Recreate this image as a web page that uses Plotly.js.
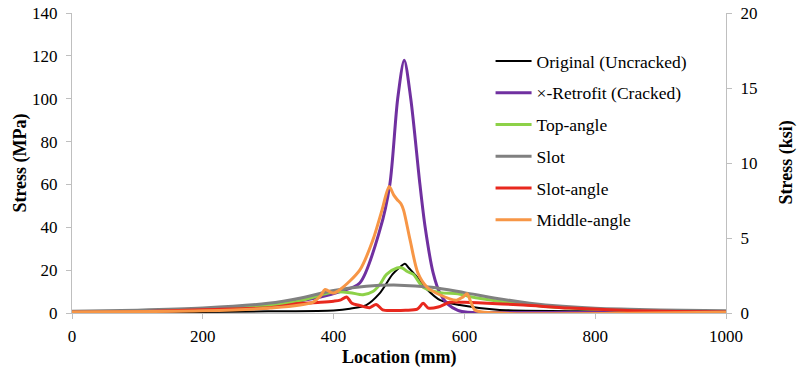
<!DOCTYPE html>
<html>
<head>
<meta charset="utf-8">
<script src="https://cdn.plot.ly/plotly-3.0.1.min.js"></script>
<style>html,body{margin:0;padding:0;background:#fff;}#chart{width:797px;height:372px;}</style>
</head>
<body>
<div id="chart"></div>
<script>
// Location (mm) / Stress (MPa) for each series
const originalX = [0, 200, 300, 400, 425, 450, 470, 490, 500, 509, 515, 527, 543, 563, 593, 650, 800, 1000];
const originalY = [0.3, 0.5, 0.8, 1.2, 2, 3.7, 9, 18, 21, 23, 21, 17, 11, 6, 3.7, 1.5, 0.8, 0.5];

const retrofitX = [0, 100, 200, 300, 380, 410, 440, 471, 486, 498, 508, 518, 532, 540, 552, 563, 575, 590, 605, 650, 1000];
const retrofitY = [0.5, 0.8, 1.4, 3.7, 7.5, 10, 14, 39, 60, 100, 118, 100, 60, 40, 19, 9, 4, 1.2, 0.3, 0.2, 0.2];

const topAngleX = [0, 200, 300, 353, 387, 400, 425, 445, 460, 470, 481, 497, 505, 512, 522, 537, 563, 590, 604, 620, 665, 716, 760, 850, 1000];
const topAngleY = [0.3, 1.5, 3.5, 6, 9, 9.8, 9.5, 8.5, 10, 13, 18, 21, 21, 19.5, 18, 12, 9.5, 9, 8, 7, 5, 3.3, 2.3, 1.2, 0.5];

const slotX = [0, 100, 200, 300, 350, 400, 450, 500, 550, 600, 650, 700, 750, 800, 900, 1000];
const slotY = [0.8, 1.3, 2.3, 4.5, 7, 10.5, 12.5, 13, 12, 9.5, 6.8, 4.6, 3.1, 2.2, 1.4, 1];

const slotAngleX = [0, 100, 200, 300, 350, 380, 400, 410, 420, 428, 440, 455, 465, 475, 490, 510, 528, 537, 545, 560, 578, 600, 620, 690, 760, 850, 1000];
const slotAngleY = [0.3, 0.6, 1.5, 2.5, 4.5, 5, 5.5, 6, 7.5, 4.5, 3.5, 2.5, 4, 1.5, 1.2, 1.3, 1.8, 4.5, 2.3, 2.8, 5, 5, 4.8, 3.7, 2.3, 1.2, 0.5];

const middleAngleX = [0, 200, 303, 368, 380, 387, 399, 410, 440, 460, 474, 485, 492, 497, 503, 507, 517, 529, 543, 563, 588, 598, 604, 610, 616, 630, 1000];
const middleAngleY = [0.5, 1, 2.3, 5, 8, 11, 9.3, 11, 20, 34, 48, 59, 55, 53, 51, 48, 34, 18.6, 12, 8.4, 6, 7.5, 9, 5, 1.4, 0.3, 0.3];

const names = ['Original (Uncracked)', '\u00d7-Retrofit (Cracked)', 'Top-angle', 'Slot', 'Slot-angle', 'Middle-angle'];
const colors = ['#000000', '#7030A0', '#8DD148', '#808080', '#E8281E', '#F79646'];
const widths = [2, 3, 3, 3, 3, 3];
const xs = [originalX, retrofitX, topAngleX, slotX, slotAngleX, middleAngleX];
const ys = [originalY, retrofitY, topAngleY, slotY, slotAngleY, middleAngleY];
const MPA_PER_KSI = 6.89476;

const traces = names.map((n, i) => ({
  x: xs[i], y: ys[i], name: n, type: 'scatter', mode: 'lines',
  line: {color: colors[i], width: widths[i], shape: 'spline', smoothing: 0.8},
  legendgroup: 'g' + i
}));
// secondary axis (ksi) companion trace, invisible
traces.push({
  x: retrofitX, y: retrofitY.map(v => v / MPA_PER_KSI), yaxis: 'y2', type: 'scatter', mode: 'lines',
  line: {color: 'rgba(0,0,0,0)', width: 0}, showlegend: false, hoverinfo: 'skip'
});

const F = 'Liberation Serif';
const layout = {
  width: 797, height: 372,
  margin: {l: 72, r: 71, t: 13, b: 59},
  showlegend: true,
  legend: {x: 0.64, y: 0.9, xanchor: 'left', yanchor: 'top',
           font: {family: F, size: 17.5, color: '#000000'}, tracegroupgap: 6, itemwidth: 36},
  xaxis: {range: [0, 1000], dtick: 200, tick0: 0, showgrid: false, zeroline: false,
          showline: true, linecolor: '#BFBFBF', linewidth: 1, ticks: 'outside', ticklen: 5, tickcolor: '#BFBFBF',
          ticklabelstandoff: 3,
          tickfont: {family: F, size: 17, color: '#000000'}},
  yaxis: {range: [0, 140], dtick: 20, showgrid: false, zeroline: false,
          showline: true, linecolor: '#BFBFBF', linewidth: 1, ticks: 'outside', ticklen: 5, tickcolor: '#BFBFBF',
          ticklabelstandoff: 5,
          tickfont: {family: F, size: 17, color: '#000000'},
          title: {text: '<b>Stress (MPa)</b>', font: {family: F, size: 18, color: '#000000'}}},
  yaxis2: {range: [0, 20], dtick: 5, overlaying: 'y', side: 'right', showgrid: false, zeroline: false,
           showline: true, linecolor: '#BFBFBF', linewidth: 1, ticks: 'outside', ticklen: 5, tickcolor: '#BFBFBF',
           ticklabelstandoff: 5,
           tickfont: {family: F, size: 17, color: '#000000'}},
  annotations: [
    {xref: 'paper', yref: 'paper', x: 0.5, y: -0.147, xanchor: 'center', yanchor: 'middle',
     showarrow: false, text: '<b>Location (mm)</b>', font: {family: F, size: 18, color: '#000000'}},
    {xref: 'paper', yref: 'paper', x: 1.091, y: 0.5, xanchor: 'center', yanchor: 'middle',
     textangle: -90, showarrow: false, text: '<b>Stress (ksi)</b>', font: {family: F, size: 18, color: '#000000'}}
  ]
};
Plotly.newPlot('chart', traces, layout, {displayModeBar: false, staticPlot: true});
</script>
</body>
</html>
